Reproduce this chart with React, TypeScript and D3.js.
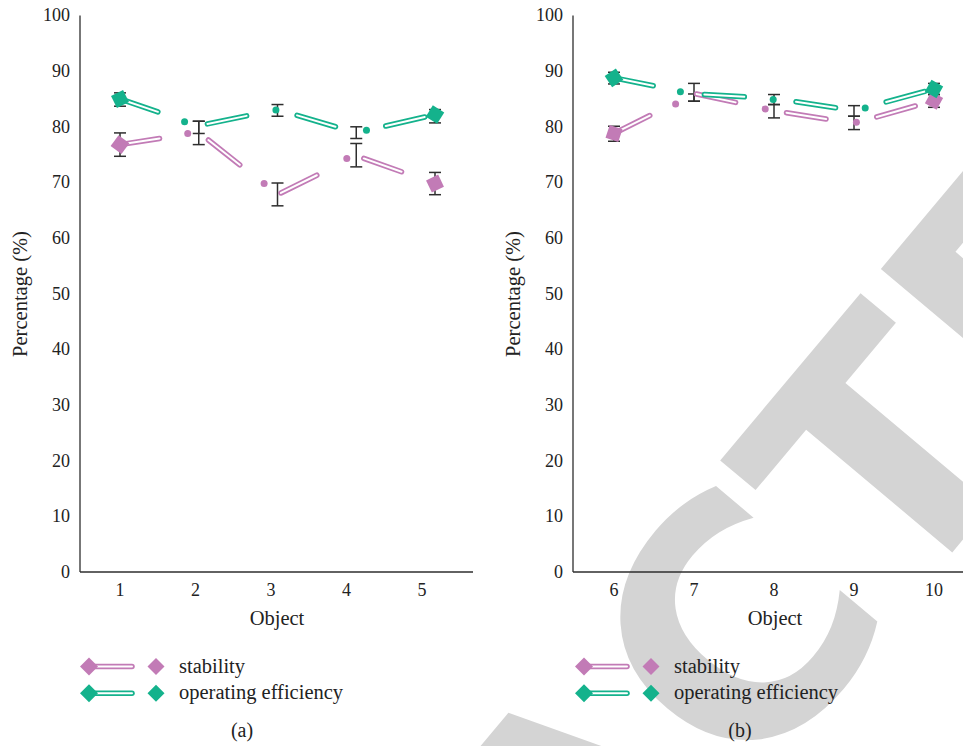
import React from 'react';
import * as d3 from 'd3';

// objects on the x axis of each panel
const objectsA = [1, 2, 3, 4, 5];
const objectsB = [6, 7, 8, 9, 10];
const yTicks = [0, 10, 20, 30, 40, 50, 60, 70, 80, 90, 100];

// panel (a) values (%)
const stabilityA = [76.8, 79.0, 67.8, 74.8, 69.8];
const efficiencyA = [85.0, 80.2, 83.1, 78.9, 82.2];
const stabilityLowA = [74.7, 76.8, 65.8, 72.8, 67.8];
const stabilityHighA = [78.9, 81.0, 69.9, 77.0, 71.8];
const efficiencyLowA = [83.7, 78.8, 81.9, 77.9, 80.7];
const efficiencyHighA = [86.1, 81.0, 84.0, 80.0, 83.1];
// small round markers, read where they sit on the line
const stabilityDotXA = [1.86, 2.83, 3.88];
const stabilityDotA = [78.8, 69.8, 74.3];
const efficiencyDotXA = [1.82, 2.98, 4.13];
const efficiencyDotA = [80.9, 83.0, 79.4];

// panel (b) values (%)
const stabilityB = [78.8, 86.0, 82.9, 80.6, 84.7];
const efficiencyB = [88.8, 85.9, 85.1, 82.9, 86.8];
const stabilityLowB = [77.4, 84.6, 81.6, 79.5, 83.5];
const stabilityHighB = [80.1, 85.9, 84.0, 81.9, 85.8];
const efficiencyLowB = [87.7, 84.6, 84.0, 81.9, 85.8];
const efficiencyHighB = [89.8, 87.8, 85.8, 83.8, 87.8];
const stabilityDotXB = [6.77, 7.89, 9.03];
const stabilityDotB = [84.1, 83.2, 80.8];
const efficiencyDotXB = [6.83, 7.99, 9.14];
const efficiencyDotB = [86.3, 84.9, 83.4];

const PURPLE = '#c27bb6';
const GREEN = '#14b28c';
const INK = '#2e2e2e';
const FONT = "'Liberation Serif', serif";

const y = d3.scaleLinear().domain([0, 100]).range([572, 15.5]);

const diamond = (s) => `M${s},0L0,${s}L${-s},0L0,${-s}Z`;

// hollow (double) line: coloured stroke with a thin white core
const Hollow = ({ d, color, dash }) => (
  <g fill="none" strokeLinecap="round" strokeLinejoin="round">
    <path d={d} stroke={color} strokeWidth={5.5} strokeDasharray={dash} />
    <path d={d} stroke="#fff" strokeWidth={2} strokeDasharray={dash} />
  </g>
);

function Series({ objects, x, s }) {
  const pts = objects.map((o, i) => [x(o), y(s.values[i])]);
  const line = d3.line()(pts);
  const n = pts.length;
  const a0 = (Math.atan2(pts[1][1] - pts[0][1], pts[1][0] - pts[0][0]) * 180) / Math.PI;
  const a1 = (Math.atan2(pts[n - 1][1] - pts[n - 2][1], pts[n - 1][0] - pts[n - 2][0]) * 180) / Math.PI;
  return (
    <g>
      <Hollow d={line} color={s.color} dash="40 52" />
      {s.dotX.map((dx, i) => (
        <circle key={i} cx={x(dx)} cy={y(s.dotY[i])} r={3.5} fill={s.color} />
      ))}
      <path d={diamond(9.5)} fill={s.color} transform={`translate(${pts[0][0]},${pts[0][1]}) rotate(${a0})`} />
      <path d={diamond(9.5)} fill={s.color} transform={`translate(${pts[n - 1][0]},${pts[n - 1][1]}) rotate(${a1})`} />
    </g>
  );
}

function ErrorBars({ objects, x, s }) {
  return (
    <g stroke={INK} strokeWidth={1.5}>
      {objects.map((o, i) => {
        const cx = x(o);
        const y0 = y(s.low[i]);
        const y1 = y(s.high[i]);
        return (
          <g key={i}>
            <line x1={cx} x2={cx} y1={y0} y2={y1} />
            <line x1={cx - 6} x2={cx + 6} y1={y0} y2={y0} />
            <line x1={cx - 6} x2={cx + 6} y1={y1} y2={y1} />
          </g>
        );
      })}
    </g>
  );
}

function Panel({ objects, tickRange, markRange, axisX, axisEnd, titleX, objectX, legendX, tag, tagX, series }) {
  const xt = d3.scaleLinear().domain([objects[0], objects[objects.length - 1]]).range(tickRange);
  const xm = d3.scaleLinear().domain([objects[0], objects[objects.length - 1]]).range(markRange);
  return (
    <g fontFamily={FONT} fill="#222">
      <line x1={axisX} x2={axisX} y1={y(100)} y2={y(0)} stroke={INK} strokeWidth={1.3} />
      <line x1={axisX} x2={axisEnd} y1={y(0)} y2={y(0)} stroke={INK} strokeWidth={1.3} />
      {yTicks.map((t) => (
        <text key={t} x={axisX - 10} y={y(t)} dy="0.33em" textAnchor="end" fontSize={18}>{t}</text>
      ))}
      {objects.map((o) => (
        <text key={o} x={xt(o)} y={596} textAnchor="middle" fontSize={18}>{o}</text>
      ))}
      <text x={objectX} y={625} textAnchor="middle" fontSize={20.5}>Object</text>
      <text transform={`translate(${titleX},294) rotate(-90)`} textAnchor="middle" dy="0.33em" fontSize={20.5}>Percentage (%)</text>
      {series.map((s) => <ErrorBars key={s.name + 'e'} objects={objects} x={xm} s={s} />)}
      {series.map((s) => <Series key={s.name} objects={objects} x={xm} s={s} />)}
      {series.map((s, i) => {
        const ly = 666.5 + i * 26.7;
        return (
          <g key={s.name + 'l'}>
            <Hollow d={`M${legendX + 9},${ly}L${legendX + 52},${ly}`} color={s.color} dash="none" />
            <path d={diamond(9)} fill={s.color} transform={`translate(${legendX + 9},${ly})`} />
            <path d={diamond(8.5)} fill={s.color} transform={`translate(${legendX + 76},${ly})`} />
            <text x={legendX + 99} y={ly + 6} fontSize={20.5}>{s.name}</text>
          </g>
        );
      })}
      <text x={tagX} y={737} textAnchor="middle" fontSize={20}>{tag}</text>
    </g>
  );
}

export default function App() {
  const seriesA = [
    { name: 'stability', color: PURPLE, values: stabilityA, low: stabilityLowA, high: stabilityHighA, dotX: stabilityDotXA, dotY: stabilityDotA },
    { name: 'operating efficiency', color: GREEN, values: efficiencyA, low: efficiencyLowA, high: efficiencyHighA, dotX: efficiencyDotXA, dotY: efficiencyDotA },
  ];
  const seriesB = [
    { name: 'stability', color: PURPLE, values: stabilityB, low: stabilityLowB, high: stabilityHighB, dotX: stabilityDotXB, dotY: stabilityDotB },
    { name: 'operating efficiency', color: GREEN, values: efficiencyB, low: efficiencyLowB, high: efficiencyHighB, dotX: efficiencyDotXB, dotY: efficiencyDotB },
  ];
  return (
    <svg width={963} height={746} style={{ position: 'absolute', left: 0, top: 0, background: '#fff' }}>
      <text
        transform="translate(669,890) rotate(-50)"
        textAnchor="middle"
        fontFamily="'DejaVu Sans', sans-serif"
        fontWeight="bold"
        fontSize={325}
        fill="#d4d4d4"
      >
        RETRACTED
      </text>
      <Panel
        objects={objectsA}
        tickRange={[120, 422]}
        markRange={[120, 435]}
        axisX={80}
        axisEnd={473}
        titleX={20}
        objectX={277}
        legendX={80}
        tag="(a)"
        tagX={242}
        series={seriesA}
      />
      <Panel
        objects={objectsB}
        tickRange={[614, 934]}
        markRange={[614, 934]}
        axisX={573}
        axisEnd={963}
        titleX={513}
        objectX={775}
        legendX={575}
        tag="(b)"
        tagX={740}
        series={seriesB}
      />
    </svg>
  );
}
